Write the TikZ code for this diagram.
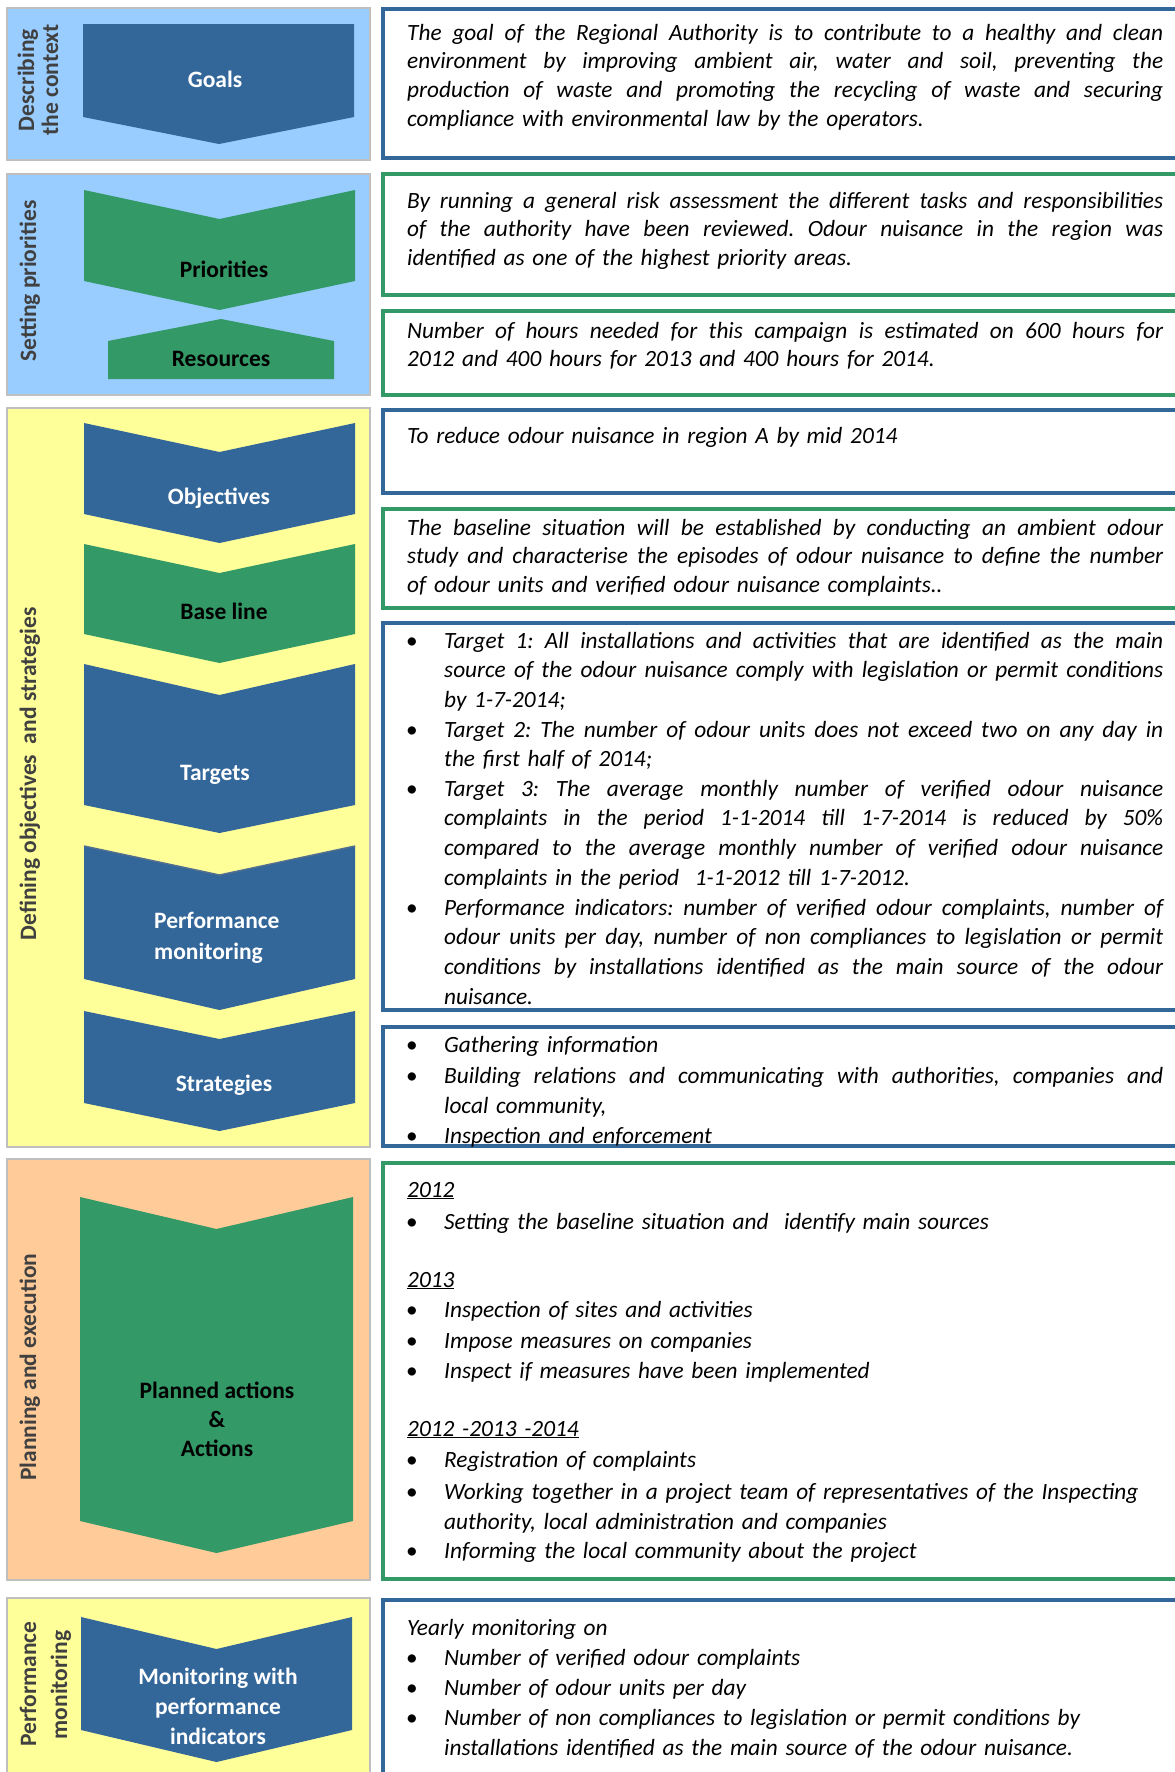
\documentclass[tikz,border=0pt]{standalone}
\usepackage{fontspec}
\setmainfont{Carlito}
\frenchspacing
\definecolor{pblue}{HTML}{99CCFF}
\definecolor{pyellow}{HTML}{FFFF99}
\definecolor{porange}{HTML}{FFCC99}
\definecolor{cblue}{HTML}{336699}
\definecolor{cgreen}{HTML}{339966}
\definecolor{pgray}{HTML}{BFBFBF}
\definecolor{sgray}{HTML}{404040}
\newcommand\jline[1]{\leavevmode\hbox to 756pt{\spaceskip=0.226em plus 1fil\relax #1}\\}
\newcommand\jitem[1]{\leavevmode\hbox to 719pt{\spaceskip=0.226em plus 1fil\relax #1}\\}
\tikzset{
  panel/.style={draw=pgray, line width=2.5pt},
  rbox/.style={line width=4pt, fill=white},
  side/.style={font=\fontsize{23.5}{28}\selectfont\bfseries, text=sgray, rotate=90, anchor=base, inner sep=0pt},
  lab/.style={font=\fontsize{23.5}{30}\selectfont\bfseries, inner sep=0pt, anchor=base, align=center},
  para/.style={font=\fontsize{23.3}{28.7}\selectfont\itshape, inner sep=0pt, anchor=base west, text width=756pt, align=left},
  itm/.style={font=\fontsize{23.3}{29.67}\selectfont\itshape, inner sep=0pt, anchor=base west, text width=719pt, align=left},
  itmb/.style={font=\fontsize{23.3}{30}\selectfont\itshape, inner sep=0pt, anchor=base west, text width=719pt, align=left},
  bul/.style={font=\fontsize{23.3}{28}\selectfont, inner sep=0pt, anchor=base},
}
\begin{document}
\begin{tikzpicture}[x=1pt,y=-1pt]
\useasboundingbox (0,0) rectangle (1175,1772);
\clip (0,0) rectangle (1175,1772);
\fill[white] (0,0) rectangle (1175,1772);

% ---------- left panels ----------
\filldraw[panel, fill=pblue] (7,8) rectangle (370,160);
\filldraw[panel, fill=pblue] (7,174) rectangle (370,395);
\filldraw[panel, fill=pyellow] (7,408) rectangle (370,1147);
\filldraw[panel, fill=porange] (7,1159) rectangle (370,1580);
\filldraw[panel, fill=pyellow] (7,1598) rectangle (370,1790);

% ---------- chevrons ----------
\fill[cblue] (83,24) -- (354,24) -- (354,117) -- (219,144) -- (83,117) -- cycle;
\fill[cgreen] (84,190) -- (219.5,219) -- (355,190) -- (355,281) -- (219.5,310) -- (84,281) -- cycle;
\fill[cgreen] (108,341) -- (221,319) -- (334,341) -- (334,379) -- (108,379) -- cycle;
\fill[cblue] (84,423) -- (219.5,452) -- (355,423) -- (355,514) -- (219.5,543) -- (84,514) -- cycle;
\fill[cgreen] (84,544) -- (219.5,573) -- (355,544) -- (355,634) -- (219.5,663) -- (84,634) -- cycle;
\fill[cblue] (84,664) -- (219.5,695) -- (355,664) -- (355,805) -- (219.5,833) -- (84,805) -- cycle;
\fill[cblue] (84,846) -- (219.5,875) -- (355,846) -- (355,979) -- (219.5,1010) -- (84,979) -- cycle;
\draw[line width=1.5pt, color=cblue!60!gray] (84,846) -- (219.5,875) -- (355,846);
\fill[cblue] (84,1011) -- (219.5,1039) -- (355,1011) -- (355,1103) -- (219.5,1131) -- (84,1103) -- cycle;
\fill[cgreen] (80,1197) -- (216.5,1229) -- (353,1197) -- (353,1521) -- (216.5,1553) -- (80,1521) -- cycle;
\fill[cblue] (81,1617) -- (216.5,1649) -- (352,1617) -- (352,1730) -- (216.5,1762) -- (81,1730) -- cycle;

% ---------- chevron labels ----------
\node[lab, text=white] (goals) at (215,87) {Goals};
\node[lab, text=black] (prio) at (224,277) {Priorities};
\node[lab, text=black] (res) at (221,366) {Resources};
\node[lab, text=white] (obj) at (219,504) {Objectives};
\node[lab, text=black] (base) at (224,619) {Base line};
\node[lab, text=white] (targ) at (215,780) {Targets};
\node[lab, text=white, anchor=base west] (perf1) at (154,928) {Performance};
\node[lab, text=white, anchor=base west] (perf2) at (154,959) {monitoring};
\node[lab, text=white] (strat) at (224,1091) {Strategies};
\node[lab, text=black] (plan1) at (217,1398) {Planned actions};
\node[lab, text=black] (plan2) at (217,1427) {\&};
\node[lab, text=black] (plan3) at (217,1456) {Actions};
\node[lab, text=white] (mon1) at (218,1684) {Monitoring with};
\node[lab, text=white] (mon2) at (218,1714) {performance};
\node[lab, text=white] (mon3) at (218,1744) {indicators};

% ---------- side labels ----------
\node[side] (s1a) at (34,80) {Describing};
\node[side] (s1b) at (58,80) {the context};
\node[side] (s2) at (36,281) {Setting priorities};
\node[side] (s3) at (36,774) {Defining objectives\ \ and strategies};
\node[side] (s4) at (36,1367) {Planning and execution};
\node[side] (s5a) at (36,1684) {Performance};
\node[side] (s5b) at (67,1685) {monitoring};

% ---------- right boxes ----------
\draw[rbox, draw=cblue] (383,8.5) rectangle (1195,157.5);
\draw[rbox, draw=cgreen] (383,174) rectangle (1195,295);
\draw[rbox, draw=cgreen] (383,311) rectangle (1195,395);
\draw[rbox, draw=cblue] (383,410) rectangle (1195,493);
\draw[rbox, draw=cgreen] (383,509) rectangle (1195,608);
\draw[rbox, draw=cblue] (383,623) rectangle (1195,1010);
\draw[rbox, draw=cblue] (383,1027) rectangle (1195,1146);
\draw[rbox, draw=cgreen] (383,1163) rectangle (1195,1579);
\draw[rbox, draw=cblue] (383,1600) rectangle (1195,1800);

% ---------- texts ----------
\node[para] (t1) at (407,40) {%
\jline{The goal of the Regional Authority is to contribute to a healthy and clean}
\jline{environment by improving ambient air, water and soil, preventing the}
\jline{production of waste and promoting the recycling of waste and securing}
compliance with environmental law by the operators.};

\node[para] (t2) at (407,208) {%
\jline{By running a general risk assessment the different tasks and responsibilities}
\jline{of the authority have been reviewed. Odour nuisance in the region was}
identified as one of the highest priority areas.};

\node[para] (t3) at (407,338) {%
\jline{Number of hours needed for this campaign is estimated on 600 hours for}
2012 and 400 hours for 2013 and 400 hours for 2014.};

\node[para] (t4) at (407,443) {To reduce odour nuisance in region A by mid 2014};

\node[para] (t5) at (407,535) {%
\jline{The baseline situation will be established by conducting an ambient odour}
\jline{study and characterise the episodes of odour nuisance to define the number}
of odour units and verified odour nuisance complaints..};

% targets
\node[bul] (b61) at (412,648) {•};
\node[itm] (t61) at (444,648) {%
\jitem{Target 1: All installations and activities that are identified as the main}
\jitem{source of the odour nuisance comply with legislation or permit conditions}
by 1-7-2014;};
\node[bul] (b62) at (412,737) {•};
\node[itm] (t62) at (444,737) {%
\jitem{Target 2: The number of odour units does not exceed two on any day in}
the first half of 2014;};
\node[bul] (b63) at (412,796.3) {•};
\node[itm] (t63) at (444,796.3) {%
\jitem{Target 3: The average monthly number of verified odour nuisance}
\jitem{complaints in the period 1-1-2014 till 1-7-2014 is reduced by 50\%}
\jitem{compared to the average monthly number of verified odour nuisance}
complaints in the period\ \ 1-1-2012 till 1-7-2012.};
\node[bul] (b64) at (412,915) {•};
\node[itm] (t64) at (444,915) {%
\jitem{Performance indicators: number of verified odour complaints, number of}
\jitem{odour units per day, number of non compliances to legislation or permit}
\jitem{conditions by installations identified as the main source of the odour}
nuisance.};

% strategies
\node[bul] (b71) at (412,1052) {•};
\node[itmb] (t71) at (444,1052) {Gathering information};
\node[bul] (b72) at (412,1083) {•};
\node[itmb] (t72) at (444,1083) {%
\jitem{Building relations and communicating with authorities, companies and}
local community,};
\node[bul] (b73) at (412,1143) {•};
\node[itmb] (t73) at (444,1143) {Inspection and enforcement};

% planning
\node[para] (y1) at (407,1197) {\underline{2012}};
\node[bul] (b81) at (412,1229) {•};
\node[itmb] (t81) at (444,1229) {Setting the baseline situation and\ \ identify main sources};
\node[para] (y2) at (407,1287) {\underline{2013}};
\node[bul] (b82) at (412,1317) {•};
\node[itmb] (t82) at (444,1317) {Inspection of sites and activities};
\node[bul] (b83) at (412,1348) {•};
\node[itmb] (t83) at (444,1348) {Impose measures on companies};
\node[bul] (b84) at (412,1378) {•};
\node[itmb] (t84) at (444,1378) {Inspect if measures have been implemented};
\node[para] (y3) at (407,1436) {\underline{2012 -2013 -2014}};
\node[bul] (b85) at (412,1467) {•};
\node[itmb] (t85) at (444,1467) {Registration of complaints};
\node[bul] (b86) at (412,1499) {•};
\node[itmb] (t86) at (444,1499) {Working together in a project team of representatives of the Inspecting\\
authority, local administration and companies};
\node[bul] (b87) at (412,1558) {•};
\node[itmb] (t87) at (444,1558) {Informing the local community about the project};

% monitoring
\node[para] (t9) at (407,1635) {Yearly monitoring on};
\node[bul] (b91) at (412,1665) {•};
\node[itmb] (t91) at (444,1665) {Number of verified odour complaints};
\node[bul] (b92) at (412,1695) {•};
\node[itmb] (t92) at (444,1695) {Number of odour units per day};
\node[bul] (b93) at (412,1725) {•};
\node[itmb] (t93) at (444,1725) {Number of non compliances to legislation or permit conditions by\\
installations identified as the main source of the odour nuisance.};
\end{tikzpicture}
\end{document}
